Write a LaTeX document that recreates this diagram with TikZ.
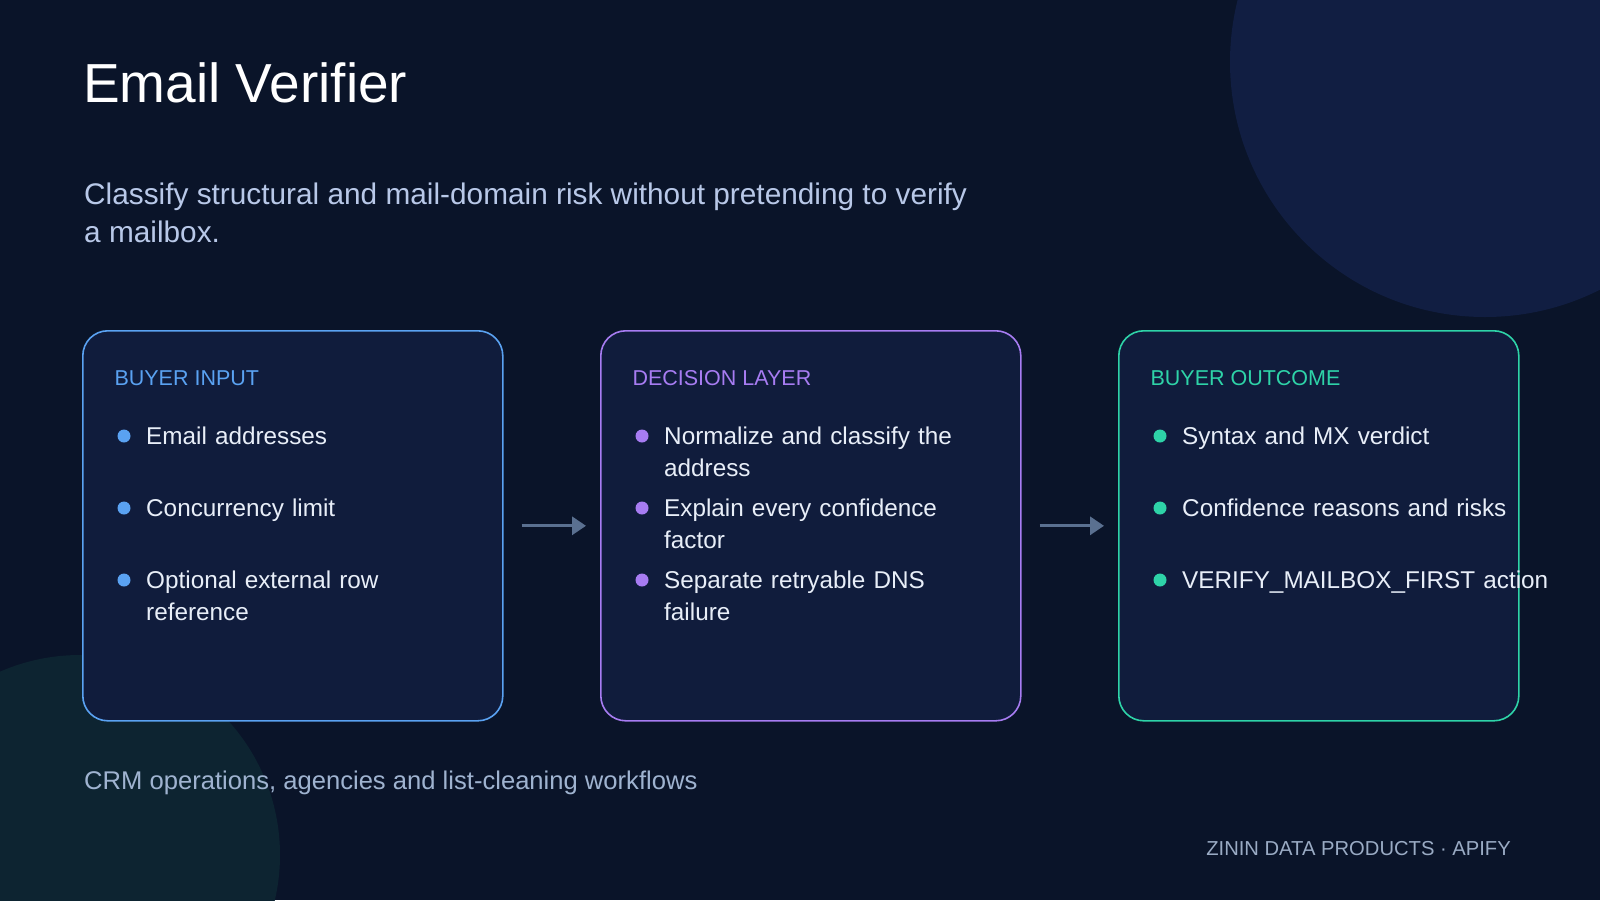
\documentclass[tikz,border=0pt]{standalone}
\usepackage{fontspec}
\setmainfont{Liberation Sans}
\usetikzlibrary{arrows.meta}
\definecolor{bg}{HTML}{0A1429}
\definecolor{circA}{HTML}{111E42}
\definecolor{circB}{HTML}{0D2431}
\definecolor{boxfill}{HTML}{101C3C}
\definecolor{cblue}{HTML}{5AA2F2}
\definecolor{cpurple}{HTML}{A77CF2}
\definecolor{cteal}{HTML}{2ED3A8}
\definecolor{subt}{HTML}{B8C8E8}
\definecolor{btext}{HTML}{E8EEF8}
\definecolor{foot}{HTML}{9FB3D0}
\definecolor{arr}{HTML}{5A7090}
\tikzset{
 box/.style={draw=#1, line width=1.6pt, fill=boxfill, rounded corners=25pt},
 lab/.style={anchor=base west, text=#1, font=\fontsize{21.5}{25}\selectfont},
 item/.style={anchor=base west, text=btext, font=\fontsize{24.3}{32}\selectfont, align=left, text width=340pt, inner sep=0pt},
 dot/.style={circle, fill=#1, minimum size=13pt, inner sep=0pt},
 conn/.style={draw=arr, line width=3.2pt, -{Triangle[length=14pt,width=18pt]}}
}
\begin{document}
\begin{tikzpicture}[x=1pt,y=-1pt]
\useasboundingbox (0,0) rectangle (1600,900);
\fill[bg] (0,0) rectangle (1600,900);
\begin{scope}
\clip (0,0) rectangle (1600,900);
\fill[circA] (1485,62) circle (255);
\fill[circB] (80,855) circle (200);
\end{scope}
\node[anchor=base west, text=white, font=\fontsize{55}{60}\selectfont, inner sep=0pt] (title) at (83,102) {Email Verifier};
\node[anchor=base west, text=subt, font=\fontsize{29.8}{38}\selectfont, align=left, inner sep=0pt] (sub) at (84,242) {Classify structural and mail-domain risk without pretending to verify\\a mailbox.};

\node[box=cblue, minimum width=420pt, minimum height=390pt, anchor=north west] (b1) at (82,330) {};
\node[box=cpurple, minimum width=420pt, minimum height=390pt, anchor=north west] (b2) at (600,330) {};
\node[box=cteal, minimum width=400pt, minimum height=390pt, anchor=north west] (b3) at (1118,330) {};

\node[lab=cblue] (l1) at (111,385) {BUYER INPUT};
\node[lab=cpurple] (l2) at (629,385) {DECISION LAYER};
\node[lab=cteal] (l3) at (1147,385) {BUYER OUTCOME};

\node[dot=cblue] (d11) at (124,436) {};
\node[item] (t11) at (146,444) {Email addresses};
\node[dot=cblue] (d12) at (124,508) {};
\node[item] (t12) at (146,516) {Concurrency limit};
\node[dot=cblue] (d13) at (124,580) {};
\node[item] (t13) at (146,588) {Optional external row\\reference};
\node[dot=cpurple] (d21) at (642,436) {};
\node[item] (t21) at (664,444) {Normalize and classify the\\address};
\node[dot=cpurple] (d22) at (642,508) {};
\node[item] (t22) at (664,516) {Explain every confidence\\factor};
\node[dot=cpurple] (d23) at (642,580) {};
\node[item] (t23) at (664,588) {Separate retryable DNS\\failure};
\node[dot=cteal] (d31) at (1160,436) {};
\node[item, text width=420pt] (t31) at (1182,444) {Syntax and MX verdict};
\node[dot=cteal] (d32) at (1160,508) {};
\node[item, text width=420pt] (t32) at (1182,516) {Confidence reasons and risks};
\node[dot=cteal] (d33) at (1160,580) {};
\node[item, text width=420pt] (t33) at (1182,588) {VERIFY\_MAILBOX\_FIRST action};

\draw[conn] ([xshift=18pt]b1.east) -- ([xshift=-14pt]b2.west);
\draw[conn] ([xshift=18pt]b2.east) -- ([xshift=-14pt]b3.west);

\node[anchor=base west, text=foot, font=\fontsize{25.6}{30}\selectfont, inner sep=0pt] (f1) at (84,789) {CRM operations, agencies and list-cleaning workflows};
\node[anchor=base east, text=foot!85!gray, font=\fontsize{20.2}{24}\selectfont, inner sep=0pt] (f2) at (1511,855) {ZININ DATA PRODUCTS · APIFY};
\end{tikzpicture}
\end{document}
